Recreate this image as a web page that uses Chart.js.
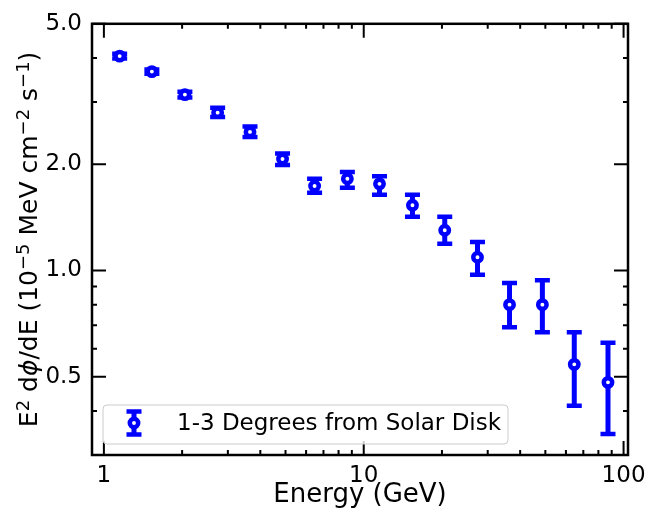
<!DOCTYPE html>
<html>
<head>
<meta charset="utf-8">
<script src="https://cdn.jsdelivr.net/npm/chart.js@4/dist/chart.umd.min.js"></script>
<style>
  body { margin: 0; background: #fff; }
  canvas { display: block; }
</style>
</head>
<body>
<canvas id="spectrum" width="662" height="514"></canvas>
<script>
// energy bins (GeV) and E^2 dphi/dE (1e-5 MeV cm^-2 s^-1) with error bar ends
const energy = [1.15, 1.53, 2.05, 2.74, 3.65, 4.87, 6.47, 8.65, 11.5, 15.4, 20.5, 27.4, 36.4, 48.7, 64.6, 87.1]
const flux = [4.05, 3.66, 3.15, 2.80, 2.47, 2.07, 1.735, 1.82, 1.76, 1.53, 1.30, 1.09, 0.80, 0.80, 0.542, 0.482]
const fluxLow = [3.99, 3.61, 3.09, 2.72, 2.39, 1.99, 1.66, 1.715, 1.64, 1.42, 1.19, 0.973, 0.69, 0.668, 0.414, 0.344]
const fluxHigh = [4.11, 3.71, 3.21, 2.89, 2.56, 2.145, 1.82, 1.90, 1.85, 1.64, 1.42, 1.205, 0.922, 0.938, 0.668, 0.624]

const xMajor = [1, 10, 100]
const xMinor = [2, 3, 4, 5, 6, 7, 8, 9, 20, 30, 40, 50, 60, 70, 80, 90]
const yMajor = [0.5, 1.0, 2.0, 5.0]
const yMinor = [0.3, 0.4, 0.6, 0.7, 0.8, 0.9, 3, 4]

const seriesLabel = '1-3 Degrees from Solar Disk'
const xTitle = 'Energy (GeV)'
// y title pieces: [text, kind]  kind: n = normal, s = superscript, i = italic
const yTitle = [['E', 'n'], ['2', 's'], [' d', 'n'], ['ϕ', 'i'], ['/dE (10', 'n'], ['−5', 's'],
                [' MeV cm', 'n'], ['−2', 's'], [' s', 'n'], ['−1', 's'], [')', 'n']]

const blue = '#0000ff'
const fontFamily = "'DejaVu Sans', sans-serif"

points = []
energy.forEach(function(e, i){
  points.push({x: e, y: flux[i]})
});

// error bars, drawn under the markers
const errorBars = {
  id: 'errorBars',
  beforeDatasetsDraw(chart) {
    const ctx = chart.ctx
    const xs = chart.scales.x
    const ys = chart.scales.y
    ctx.save()
    ctx.strokeStyle = blue
    energy.forEach(function(e, i){
      const px = xs.getPixelForValue(e)
      const top = ys.getPixelForValue(fluxHigh[i])
      const bot = ys.getPixelForValue(fluxLow[i])
      ctx.lineWidth = 5
      ctx.beginPath()
      ctx.moveTo(px, top); ctx.lineTo(px, bot)
      ctx.stroke()
      ctx.lineWidth = 4.5
      ctx.beginPath()
      ctx.moveTo(px - 7.5, top); ctx.lineTo(px + 7.5, top)
      ctx.moveTo(px - 7.5, bot); ctx.lineTo(px + 7.5, bot)
      ctx.stroke()
    });
    ctx.restore()
  }
}

// frame, inward ticks on all sides, y title and the legend box
const frameAndLegend = {
  id: 'frameAndLegend',
  afterDraw(chart) {
    const ctx = chart.ctx
    const a = chart.chartArea
    const xs = chart.scales.x
    const ys = chart.scales.y
    ctx.save()
    ctx.strokeStyle = '#000'
    ctx.lineWidth = 2
    ctx.beginPath()
    function xTick(v, len) {
      const px = xs.getPixelForValue(v)
      ctx.moveTo(px, a.bottom); ctx.lineTo(px, a.bottom - len)
      ctx.moveTo(px, a.top); ctx.lineTo(px, a.top + len)
    }
    function yTick(v, len) {
      const py = ys.getPixelForValue(v)
      ctx.moveTo(a.left, py); ctx.lineTo(a.left + len, py)
      ctx.moveTo(a.right, py); ctx.lineTo(a.right - len, py)
    }
    xMajor.forEach(v => xTick(v, 14))
    xMinor.forEach(v => xTick(v, 5))
    yMajor.forEach(v => yTick(v, 14))
    yMinor.forEach(v => yTick(v, 5))
    ctx.stroke()

    ctx.lineWidth = 2.5
    ctx.strokeRect(a.left, a.top, a.right - a.left, a.bottom - a.top)

    // y title, rotated, with raised exponents
    const fs = 25
    function fontFor(kind) {
      if (kind == 's') return Math.round(fs * 0.7) + 'px ' + fontFamily
      if (kind == 'i') return 'italic ' + fs + 'px ' + fontFamily
      return fs + 'px ' + fontFamily
    }
    let total = 0
    yTitle.forEach(function(p){
      ctx.font = fontFor(p[1])
      total += ctx.measureText(p[0]).width
    });
    ctx.save()
    ctx.translate(37, (a.top + a.bottom) / 2)
    ctx.rotate(-Math.PI / 2)
    ctx.fillStyle = '#000'
    ctx.textAlign = 'left'
    ctx.textBaseline = 'alphabetic'
    let cx = -total / 2
    yTitle.forEach(function(p){
      ctx.font = fontFor(p[1])
      ctx.fillText(p[0], cx, p[1] == 's' ? -fs * 0.34 : 0)
      cx += ctx.measureText(p[0]).width
    });
    ctx.restore()

    // legend
    const lx = 103, ly = 405, lw = 405, lh = 39
    ctx.beginPath()
    ctx.roundRect(lx, ly, lw, lh, 4)
    ctx.fillStyle = 'rgba(255,255,255,0.8)'
    ctx.fill()
    ctx.strokeStyle = '#cccccc'
    ctx.lineWidth = 1
    ctx.stroke()

    const mx = 134, my = 423
    ctx.strokeStyle = blue
    ctx.lineWidth = 5
    ctx.beginPath()
    ctx.moveTo(mx, my - 11.5); ctx.lineTo(mx, my + 11.5)
    ctx.stroke()
    ctx.lineWidth = 4.5
    ctx.beginPath()
    ctx.moveTo(mx - 7.5, my - 11.5); ctx.lineTo(mx + 7.5, my - 11.5)
    ctx.moveTo(mx - 7.5, my + 11.5); ctx.lineTo(mx + 7.5, my + 11.5)
    ctx.stroke()
    ctx.beginPath()
    ctx.arc(mx, my, 4.2, 0, Math.PI * 2)
    ctx.fillStyle = '#fff'
    ctx.fill()
    ctx.stroke()

    ctx.fillStyle = '#000'
    ctx.font = '23px ' + fontFamily
    ctx.textBaseline = 'middle'
    ctx.textAlign = 'left'
    ctx.fillText(seriesLabel, 177, my + 1)
    ctx.restore()
  }
}

Chart.defaults.color = '#000'
Chart.defaults.font.family = fontFamily
Chart.defaults.font.size = 23

const spectrumCanvas = document.getElementById('spectrum');
new Chart(
  spectrumCanvas,
  {
    type: 'scatter',
    data: {
      datasets: [
        {
          label: seriesLabel,
          data: points,
          pointRadius: 4.2,
          pointHoverRadius: 4.2,
          pointBorderWidth: 4.5,
          pointBackgroundColor: '#ffffff',
          pointBorderColor: blue,
        },
      ]
    },
    options: {
      responsive: false,
      animation: false,
      layout: {
        padding: {left: 0, right: 34, top: 19, bottom: 0}
      },
      plugins: {
        legend: false,
        tooltip: false,
      },
      scales: {
        x: {
          type: 'logarithmic',
          min: 0.9,
          max: 104,
          afterBuildTicks: function(scale) {
            scale.ticks = xMajor.map(v => ({value: v}))
          },
          afterFit: function(scale) {
            scale.height = 59
          },
          ticks: {
            padding: 7,
            autoSkip: false,
            maxRotation: 0,
            font: {size: 23},
            callback: function(value) { return String(value) }
          },
          grid: { display: false, drawTicks: false },
          border: { display: false },
          title: {
            display: true,
            text: xTitle,
            font: {size: 26},
            padding: {top: 0, bottom: 3},
          },
        },
        y: {
          type: 'logarithmic',
          min: 0.302,
          max: 5.0,
          afterBuildTicks: function(scale) {
            scale.ticks = yMajor.map(v => ({value: v}))
          },
          afterFit: function(scale) {
            scale.width = 92
          },
          ticks: {
            padding: 10,
            autoSkip: false,
            font: {size: 23},
            callback: function(value) { return value.toFixed(1) }
          },
          grid: { display: false, drawTicks: false },
          border: { display: false },
        },
      },
    },
    plugins: [errorBars, frameAndLegend],
  }
);
</script>
</body>
</html>
